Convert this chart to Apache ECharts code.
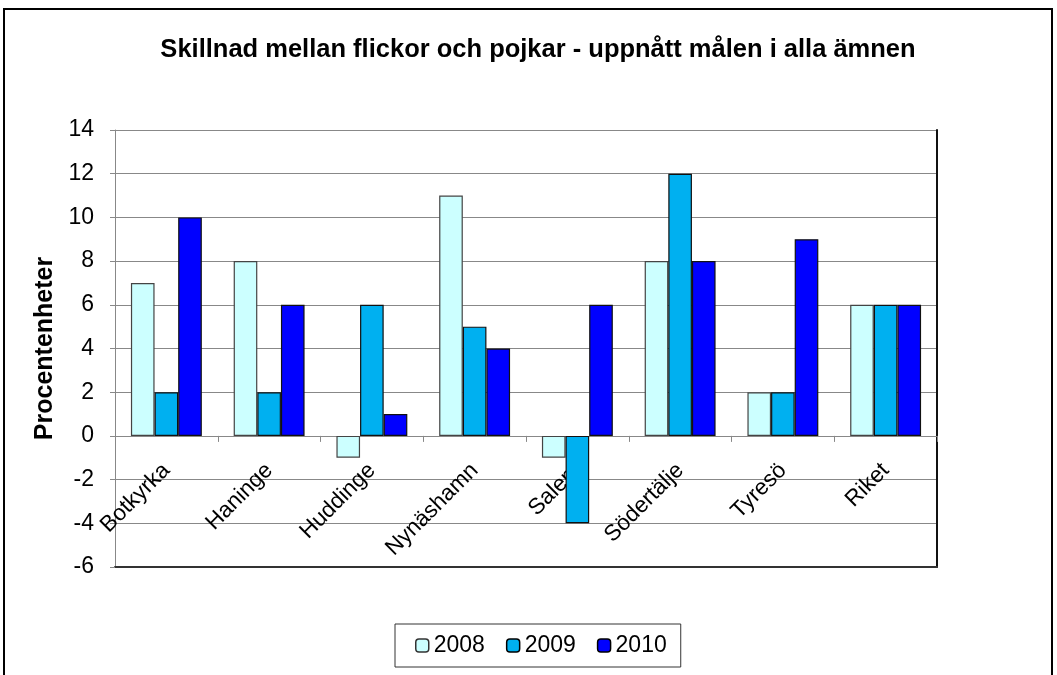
<!DOCTYPE html>
<html>
<head>
<meta charset="utf-8">
<script src="https://cdn.jsdelivr.net/npm/echarts@6/dist/echarts.min.js"></script>
<style>
  html, body { margin: 0; padding: 0; background: #fff; }
  #chart { width: 1057px; height: 675px; }
</style>
</head>
<body>
<div id="chart"></div>
<script>
// Kommuner på x-axeln
const kommuner = ["Botkyrka", "Haninge", "Huddinge", "Nynäshamn", "Salem", "Södertälje", "Tyresö", "Riket"];

// Skillnad i procentenheter per år
const varden2008 = [7, 8, -1, 11, -1, 8, 2, 6];
const varden2009 = [2, 2, 6, 5, -4, 12, 2, 6];
const varden2010 = [10, 6, 1, 4, 6, 8, 9, 6];

const yMin = -6;
const yMax = 14;
const yStep = 2;

const chart = echarts.init(document.getElementById("chart"));

function bar(name, data, color, border) {
    return {
        name: name,
        type: "bar",
        data: data,
        xAxisIndex: 0,
        yAxisIndex: 0,
        barGap: "0%",
        barCategoryGap: "31%",
        itemStyle: { color: color, borderColor: border, borderWidth: 1.2 }
    };
}

const option = {
    animation: false,
    textStyle: { fontFamily: "Liberation Sans, Arial, sans-serif" },
    title: {
        text: "Skillnad mellan flickor och pojkar - uppnått målen i alla ämnen",
        left: 533,
        textAlign: "center",
        top: 32,
        textStyle: { fontSize: 25.5, fontWeight: "bold", color: "#000" }
    },
    graphic: [{
        type: "rect",
        shape: { x: 4, y: 9, width: 1048, height: 700 },
        style: { fill: "none", stroke: "#000", lineWidth: 2 },
        silent: true
    }],
    legend: {
        bottom: 8,
        left: 395,
        itemWidth: 13,
        itemHeight: 13,
        itemGap: 21,
        padding: [10, 14, 10, 20],
        borderColor: "#333",
        borderWidth: 1,
        textStyle: { fontSize: 23, color: "#000" },
        data: [
            { name: "2008", itemStyle: { borderColor: "#333", borderWidth: 1.5 } },
            { name: "2009", itemStyle: { borderColor: "#000", borderWidth: 1.5 } },
            { name: "2010", itemStyle: { borderColor: "#000", borderWidth: 1.5 } }
        ]
    },
    grid: { left: 115, right: 120, top: 130, bottom: 108 },
    xAxis: [{
        type: "category",
        data: kommuner,
        axisLine: { onZero: true, lineStyle: { color: "#888", width: 1 } },
        axisTick: { show: true, length: 6, lineStyle: { color: "#888" } },
        // etiketterna ligger vid nollinjen som i originalet
        axisLabel: { rotate: 45, margin: -100, fontSize: 22.5, color: "#000", interval: 0 },
        splitLine: { show: false }
    }, {
        type: "category",
        data: kommuner,
        position: "bottom",
        axisLine: { onZero: false, lineStyle: { color: "#333", width: 2 } },
        axisTick: { show: false },
        axisLabel: { show: false },
        splitLine: { show: false }
    }],
    yAxis: [{
        type: "value",
        min: yMin,
        max: yMax,
        interval: yStep,
        name: "Procentenheter",
        nameLocation: "middle",
        nameGap: 55,
        nameTextStyle: { fontSize: 25, fontWeight: "bold", color: "#000" },
        axisLine: { show: true, lineStyle: { color: "#888", width: 1 } },
        axisTick: { show: true, length: 5, lineStyle: { color: "#888" } },
        axisLabel: { fontSize: 23, color: "#000", margin: 21 },
        splitLine: { show: true, lineStyle: { color: "#888", width: 1 } }
    }, {
        type: "value",
        min: yMin,
        max: yMax,
        interval: yStep,
        position: "right",
        axisLine: { show: true, lineStyle: { color: "#111", width: 2 } },
        axisTick: { show: false },
        axisLabel: { show: false },
        splitLine: { show: false }
    }],
    series: [
        bar("2008", varden2008, "#ccffff", "#444"),
        bar("2009", varden2009, "#00b0f0", "#111"),
        bar("2010", varden2010, "#0000ff", "#111")
    ]
};

chart.setOption(option);
</script>
</body>
</html>
